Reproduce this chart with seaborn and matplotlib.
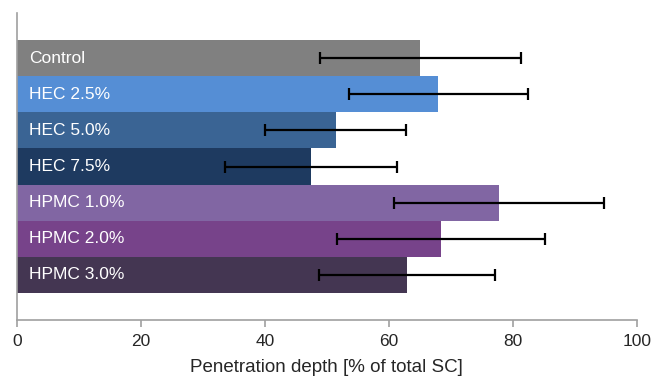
import matplotlib
matplotlib.use("Agg")
import matplotlib.pyplot as plt
import seaborn as sns
import pandas as pd

categories = ["Control", "HEC 2.5%", "HEC 5.0%", "HEC 7.5%", "HPMC 1.0%", "HPMC 2.0%", "HPMC 3.0%"]
values = [65.1, 68.0, 51.4, 47.4, 77.8, 68.4, 63.0]
errors = [16.2, 14.4, 11.4, 13.9, 17.0, 16.8, 14.2]
colors = ["#808080", "#558ED5", "#3A6494", "#1E3A60", "#8166A3", "#77438A", "#443652"]
xticks = [0, 20, 40, 60, 80, 100]

sns.set_theme(style="white")
plt.rcParams["font.family"] = ["Liberation Sans", "DejaVu Sans"]

df = pd.DataFrame({"cat": categories, "val": values})

fig = plt.figure(figsize=(6.52, 3.78), dpi=100)
ax = fig.add_axes([17 / 652, 1 - 320 / 378, (636.7 - 17) / 652, (320 - 13) / 378])

sns.barplot(data=df, y="cat", x="val", hue="cat", palette=colors, order=categories,
            hue_order=categories, width=1.0, legend=False, ax=ax, orient="h",
            linewidth=0, saturation=1)

ypos = list(range(len(categories)))
ax.errorbar(values, ypos, xerr=errors, fmt="none", ecolor="black", elinewidth=1.6,
            capsize=4, capthick=1.6, zorder=5)

for i, c in enumerate(categories):
    ax.text(1.9, i, c, color="white", fontsize=12.5, va="center", ha="left", zorder=6)

ax.set_xlim(0, 100)
ax.set_ylim(7.25, -1.25)
ax.set_xticks(xticks)
ax.set_xticklabels([str(t) for t in xticks], fontsize=12.5)
ax.set_yticks([])
ax.set_ylabel("")
ax.set_xlabel("Penetration depth [% of total SC]", fontsize=13.5, labelpad=7)

for s in ["top", "right"]:
    ax.spines[s].set_visible(False)
for s in ["left", "bottom"]:
    ax.spines[s].set_color("#A0A0A0")
    ax.spines[s].set_linewidth(1.2)
ax.tick_params(axis="x", direction="out", length=5, width=1.2, color="#A0A0A0", pad=5, bottom=True)

fig.savefig("out.png", dpi=100)
